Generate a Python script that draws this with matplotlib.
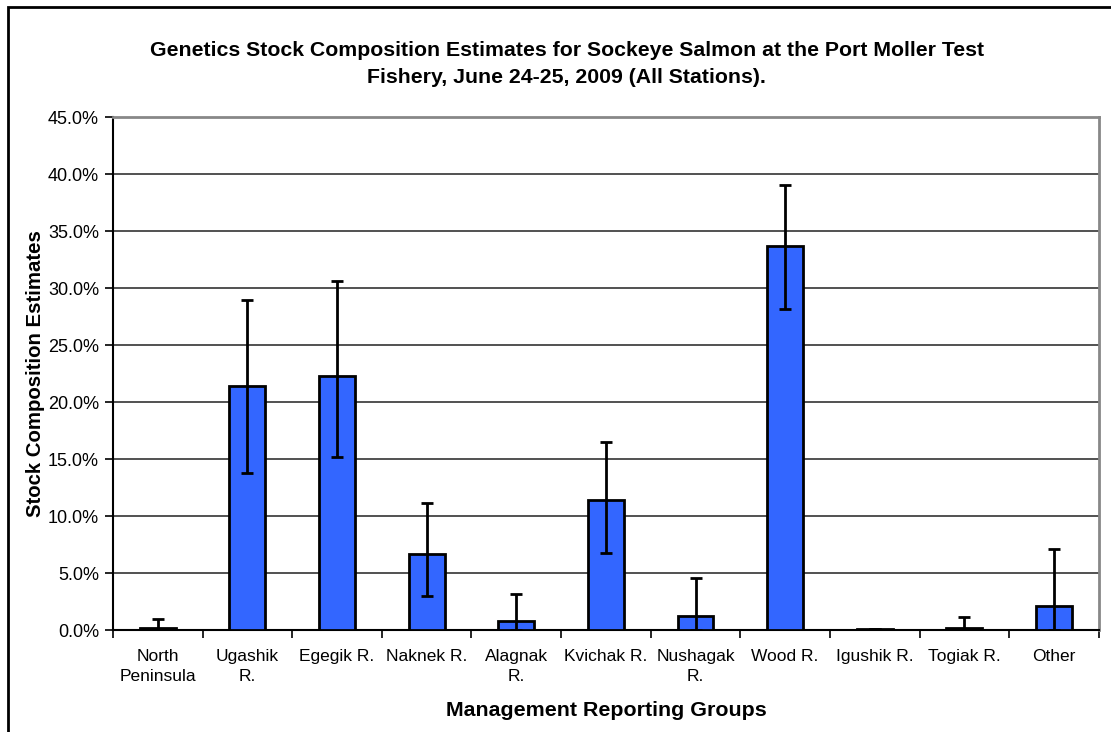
import numpy as np
import matplotlib.pyplot as plt
from matplotlib.patches import Rectangle

plt.rcParams['font.family'] = ['Liberation Sans', 'DejaVu Sans']

# Stock composition estimates (%) with 90% credibility bounds
groups = ["North\nPeninsula", "Ugashik\nR.", "Egegik R.", "Naknek R.", "Alagnak\nR.",
          "Kvichak R.", "Nushagak\nR.", "Wood R.", "Igushik R.", "Togiak R.", "Other"]
estimate = [0.15, 21.4, 22.3, 6.7, 0.76, 11.45, 1.23, 33.7, 0.05, 0.15, 2.08]
upper = [1.0, 28.95, 30.6, 11.1, 3.15, 16.5, 4.6, 39.0, 0.05, 1.1, 7.15]
lower = [0.0, 13.8, 15.15, 2.95, 0.0, 6.8, 0.0, 28.15, 0.05, 0.0, 0.0]
yticks = [0, 5, 10, 15, 20, 25, 30, 35, 40, 45]

fig = plt.figure(figsize=(11.11, 7.32), dpi=100)
ax = fig.add_axes([0.1017, 0.1393, 0.8873, 0.7008])

x = np.arange(len(groups))
est = np.array(estimate)
yerr = [est - np.array(lower), np.array(upper) - est]

ax.bar(x, est, width=0.4, color='#3366FF', edgecolor='black', linewidth=2, zorder=3)
ax.errorbar(x, est, yerr=yerr, fmt='none', ecolor='black', elinewidth=2,
            capsize=4.5, capthick=2, zorder=4)

ax.set_xlim(-0.5, len(groups) - 0.5)
ax.set_ylim(0, 45)
ax.set_yticks(yticks)
ax.set_yticklabels([f"{v:.1f}%" for v in yticks], fontsize=13)
ax.yaxis.grid(True, color='#222222', linewidth=1.1, zorder=0)

ax.set_xticks(np.arange(len(groups) + 1) - 0.5)
ax.set_xticklabels([])
ax.set_xticks(x, minor=True)
ax.set_xticklabels(groups, minor=True, fontsize=12.5, linespacing=1.4, va='top')
ax.tick_params(axis='x', which='minor', length=0, pad=14)
ax.tick_params(axis='x', which='major', length=6, width=1.2, direction='out')
ax.tick_params(axis='y', length=6, width=1.2, direction='out', pad=4)

for side in ['top', 'right']:
    ax.spines[side].set_color('#888888')
    ax.spines[side].set_linewidth(2)
ax.spines['left'].set_linewidth(1.5)
ax.spines['bottom'].set_linewidth(1.5)

ax.set_ylabel("Stock Composition Estimates", fontsize=14.7, fontweight='bold', labelpad=2)
ax.set_xlabel("Management Reporting Groups", fontsize=15.4, fontweight='bold', labelpad=12)

fig.text(0.51, 0.913, "Genetics Stock Composition Estimates for Sockeye Salmon at the Port Moller Test\n"
         "Fishery, June 24-25, 2009 (All Stations).", ha='center', va='center',
         fontsize=15.3, fontweight='bold', linespacing=1.55)

# outer chart border
fig.patches.append(Rectangle((8 / 1111, -0.5), 1.5, 1.5 - 7 / 732, transform=fig.transFigure,
                             fill=False, edgecolor='black', linewidth=2, zorder=10))

fig.savefig('out.png', dpi=100)
